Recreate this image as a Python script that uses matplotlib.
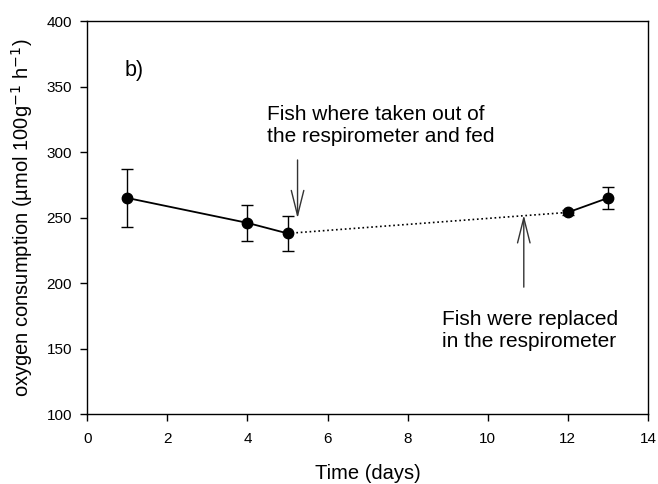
import matplotlib
matplotlib.use("Agg")
import matplotlib.pyplot as plt

plt.rcParams['font.family'] = ['Liberation Sans', 'DejaVu Sans']

# data
days = [1, 4, 5, 12, 13]
oxygen = [265, 246, 238, 254, 265]
err_low = [22, 14, 13.5, 2, 8.5]
err_high = [22, 14, 13.5, 2, 8.5]

xticks = [0, 2, 4, 6, 8, 10, 12, 14]
yticks = [100, 150, 200, 250, 300, 350, 400]

fig = plt.figure(figsize=(6.58, 4.84), dpi=100)
ax = fig.add_axes([0.1327, 0.144, 0.852, 0.8126])

# solid before feeding, dotted while out of respirometer, solid after
ax.plot(days[:3], oxygen[:3], "-", color="black", lw=1.3)
ax.plot(days[2:4], oxygen[2:4], ":", color="black", lw=1.2)
ax.plot(days[3:], oxygen[3:], "-", color="black", lw=1.3)
ax.errorbar(days, oxygen, yerr=[err_low, err_high], fmt="o", color="black",
            ms=7.5, capsize=4, elinewidth=1, capthick=1)

ax.annotate("", xy=(5.25, 249.5), xytext=(5.25, 294),
            arrowprops=dict(arrowstyle="->, head_length=1.8, head_width=0.45",
                            color="#333333", lw=1, shrinkA=0, shrinkB=0))
ax.annotate("", xy=(10.9, 252), xytext=(10.9, 197),
            arrowprops=dict(arrowstyle="->, head_length=1.8, head_width=0.45",
                            color="#333333", lw=1, shrinkA=0, shrinkB=0))

ax.text(4.48, 320, "Fish where taken out of\nthe respirometer and fed",
        fontsize=15, ha="left", va="center", linespacing=1.2)
ax.text(8.85, 164, "Fish were replaced\nin the respirometer",
        fontsize=15, ha="left", va="center", linespacing=1.2)
ax.text(0.93, 362, "b)", fontsize=15.5, ha="left", va="center")

ax.set_xlim(0, 14)
ax.set_ylim(100, 400)
ax.set_xticks(xticks)
ax.set_yticks(yticks)
ax.tick_params(direction="out", length=5, width=1, labelsize=11)
ax.tick_params(axis="x", pad=8)
ax.tick_params(axis="y", pad=6)
for s in ax.spines.values():
    s.set_linewidth(1)

ax.set_xlabel("Time (days)", fontsize=14.5, labelpad=13)
ax.set_ylabel("oxygen consumption (µmol 100g$^{-1}$ h$^{-1}$)", fontsize=14.5, labelpad=8)

fig.savefig("out.png", dpi=100)
